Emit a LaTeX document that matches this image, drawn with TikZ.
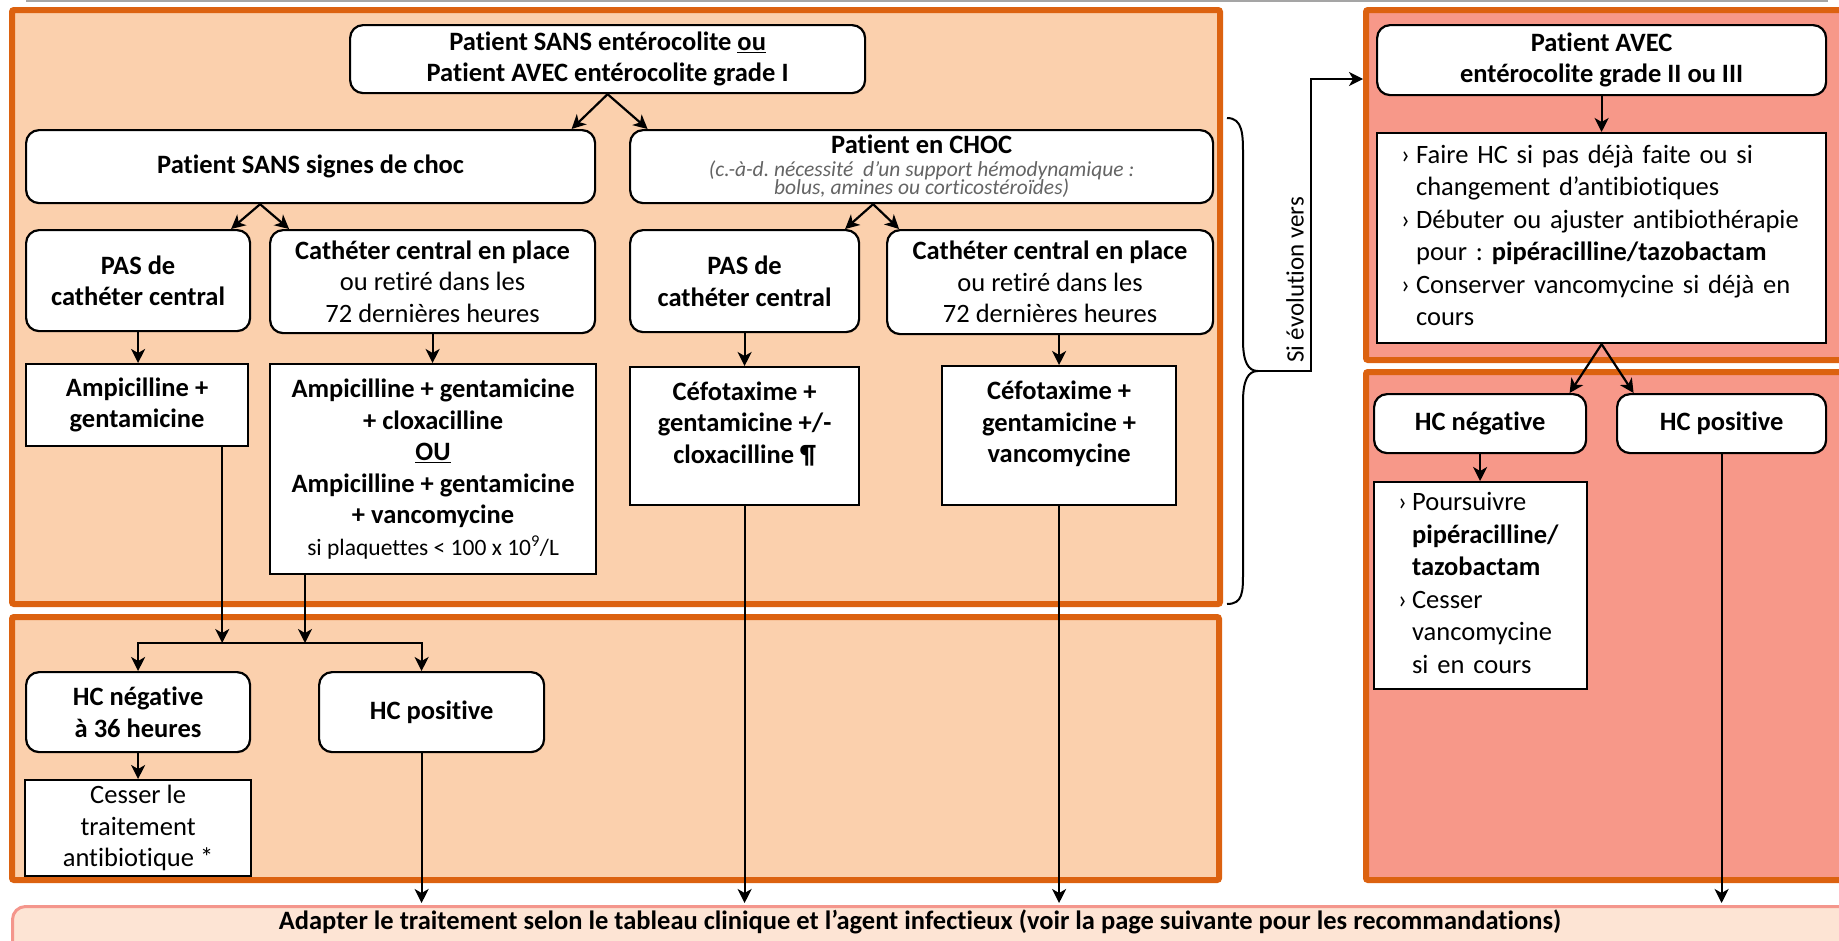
\documentclass[tikz,border=0pt]{standalone}
\usepackage{fontspec}
\setmainfont{Carlito}[Ligatures=NoCommon]
\frenchspacing
\usetikzlibrary{arrows.meta,calc}
\definecolor{peach}{RGB}{251,208,173}
\definecolor{orng}{RGB}{220,98,16}
\definecolor{salm}{RGB}{247,152,137}
\definecolor{lightp}{RGB}{253,228,212}
\definecolor{pinkb}{RGB}{244,150,140}
\definecolor{grayt}{RGB}{100,100,100}
\definecolor{topline}{RGB}{165,165,165}
\newcommand\fsz{\fontsize{26.5}{31.5}\selectfont}
\newcommand\fsl{\fontsize{26.5}{32.5}\selectfont}
\newcommand\fit{\mdseries\itshape\color{grayt}\fontsize{21.5}{16.5}\selectfont}
\begin{document}
\begin{tikzpicture}[x=1pt,y=-1pt,
  rbox/.style={draw=black, line width=2.2pt, fill=white, rounded corners=13pt, align=center, inner sep=0pt, font=\fsz\bfseries, anchor=north west},
  sbox/.style={draw=black, line width=2.2pt, fill=white, align=center, inner sep=0pt, font=\fsz\bfseries, anchor=north west},
  lbox/.style={draw=black, line width=2.2pt, fill=white, align=left, inner ysep=0pt, inner xsep=24pt, font=\fsl\mdseries, anchor=north west},
  conn/.style={line width=2.2pt, -{Stealth[length=14pt,width=14pt,inset=4pt]}},
  panelL/.style={fill=peach, draw=orng, line width=6pt, rounded corners=2pt},
  panelR/.style={fill=salm, draw=orng, line width=6pt, rounded corners=2pt},
]
\useasboundingbox (0,0) rectangle (1839,940);
\clip (0,0) rectangle (1839,940);

% header line
\draw[topline, line width=2pt] (26,1) -- (1828,1);

% panels
\draw[panelL] (12,10) rectangle (1220,604);
\draw[panelL] (12,617) rectangle (1219,880);
\draw[panelR] (1366,10) rectangle (1860,360);
\draw[panelR] (1366,372) rectangle (1860,880);

% bottom box
\node[draw=pinkb, fill=lightp, line width=3pt, rounded corners=13pt, minimum width=1860pt, minimum height=90pt, anchor=north west, inner sep=0pt] (NBbox) at (11,905) {};
\node[font=\fontsize{26.5}{31}\selectfont\bfseries, inner sep=0pt] (NB) at (920,922) {Adapter le traitement selon le tableau clinique et l’agent infectieux (voir la page suivante pour les recommandations)};

% left column nodes
\node[rbox, minimum width=515pt, minimum height=68pt] (N1) at (349,24) {Patient SANS entérocolite \underline{ou}\\Patient AVEC entérocolite grade I};
\node[rbox, minimum width=569pt, minimum height=73pt] (N2) at (25,129) {Patient SANS signes de choc};
\node[rbox, minimum width=583pt, minimum height=73pt] (N3) at (629,129) {Patient en CHOC\\[-9pt]{\fit (c.-à-d. nécessité\ \ d’un support hémodynamique :}\\[-13pt]{\fit bolus, amines ou corticostéroïdes)}};
\node[rbox, minimum width=224pt, minimum height=101pt] (N4) at (25,229) {PAS de\\cathéter central};
\node[rbox, minimum width=325pt, minimum height=103pt] (N5) at (269,229) {Cathéter central en place\\{\mdseries ou retiré dans les}\\{\mdseries 72 dernières heures}};
\node[rbox, minimum width=229pt, minimum height=102pt] (N6) at (629,229) {PAS de\\cathéter central};
\node[rbox, minimum width=326pt, minimum height=104pt] (N7) at (886,229) {Cathéter central en place\\{\mdseries ou retiré dans les}\\{\mdseries 72 dernières heures}};
\node[sbox, minimum width=222pt, minimum height=82pt] (N8) at (25,363) {Ampicilline +\\gentamicine};
\node[sbox, minimum width=326pt, minimum height=210pt] (N9) at (269,363) {Ampicilline + gentamicine\\+ cloxacilline\\\underline{OU}\\Ampicilline + gentamicine\\+ vancomycine\\{\mdseries\fontsize{23.5}{31.5}\selectfont si plaquettes < 100 x 10\textsuperscript{9}/L}};
\node[sbox, minimum width=229pt, minimum height=138pt] (N10) at (629,366) {Céfotaxime +\\gentamicine +/-\\cloxacilline ¶\\[-4pt]\mbox{}};
\node[sbox, minimum width=234pt, minimum height=139pt] (N11) at (941,365) {Céfotaxime +\\gentamicine +\\vancomycine\\[-4pt]\mbox{}};
\node[rbox, minimum width=224pt, minimum height=80pt] (N12) at (25,671) {HC négative\\à 36 heures};
\node[rbox, minimum width=225pt, minimum height=80pt] (N13) at (318,671) {HC positive};
\node[sbox, minimum width=226pt, minimum height=96pt, font=\fsz\mdseries] (N14) at (24,779) {Cesser le\\traitement\\antibiotique *};

% right column nodes
\node[rbox, minimum width=449pt, minimum height=70pt] (N15) at (1376,24) {Patient AVEC\\entérocolite grade II ou III};
\node[lbox, text width=401pt, minimum width=449pt, minimum height=210pt] (NR1) at (1376,132) {\begin{tabular}{@{}p{15pt}@{}l@{}}›&Faire HC si pas déjà faite ou si\\&changement d’antibiotiques\\›&Débuter ou ajuster antibiothérapie\\&pour : \textbf{pipéracilline/tazobactam}\\›&Conserver vancomycine si déjà en\\&cours\end{tabular}};
\node[rbox, minimum width=212pt, minimum height=59pt] (NR2) at (1373,393) {HC négative};
\node[rbox, minimum width=209pt, minimum height=59pt] (NR3) at (1616,393) {HC positive};
\node[lbox, text width=165pt, minimum width=213pt, minimum height=207pt] (NR4) at (1373,481) {\begin{tabular}{@{}p{14pt}@{}l@{}}›&Poursuivre\\&\textbf{pipéracilline/}\\&\textbf{tazobactam}\\›&Cesser\\&vancomycine\\&si en cours\end{tabular}};

% split arrows
\draw[conn] (N1.south) -- ([xshift=-36pt]N1.south |- N2.north);
\draw[conn] (N1.south) -- ([xshift=40pt]N1.south |- N2.north);
\coordinate (a2) at ($(N4.north east)!0.5!(N5.north west)$);
\draw[conn] (a2 |- N2.south) -- ([xshift=-29pt]a2);
\draw[conn] (a2 |- N2.south) -- ([xshift=29pt]a2);
\coordinate (a3) at ($(N6.north east)!0.5!(N7.north west)$);
\draw[conn] (a3 |- N3.south) -- ([xshift=-28pt]a3);
\draw[conn] (a3 |- N3.south) -- ([xshift=26pt]a3);
\draw[conn] (NR1.south) -- ([xshift=-32pt]NR1.south |- NR2.north);
\draw[conn] (NR1.south) -- ([xshift=32pt]NR1.south |- NR3.north);

% vertical arrows
\draw[conn] (N4.south) -- (N4.south |- N8.north);
\draw[conn] (N5.south) -- (N5.south |- N9.north);
\draw[conn] (N6.south) -- (N6.south |- N10.north);
\draw[conn] (N11.north |- N7.south) -- (N11.north);
\draw[conn] (N15.south) -- (N15.south |- NR1.north);
\draw[conn] (NR2.south) -- (NR2.south |- NR4.north);
\draw[conn] (N12.south) -- (N12.south |- N14.north);

% to the bottom box
\draw[conn] (N10.south) -- ([yshift=2pt]N10.south |- NBbox.north);
\draw[conn] (N11.south) -- ([yshift=2pt]N11.south |- NBbox.north);
\draw[conn] ([xshift=-10pt]N13.south) -- ([xshift=-10pt,yshift=2pt]N13.south |- NBbox.north);
\draw[conn] (NR3.south) -- ([yshift=2pt]NR3.south |- NBbox.north);

% junction bar
\coordinate (bar) at (0,643);
\coordinate (jM) at (260,643);
\draw[conn] ([xshift=-27pt]N8.south east) -- ([xshift=-27pt]N8.south east |- bar);
\draw[conn] ([xshift=36pt]N9.south west) -- ([xshift=36pt]N9.south west |- bar);
\draw[conn] (jM) -| (N12.north);
\draw[conn] (jM) -| ([xshift=-10pt]N13.north);

% brace and evolution arrow
\draw[line width=2pt] (1227,118) .. controls (1243,118) and (1243,135) .. (1243,155) -- (1243,340) .. controls (1243,362) and (1248,371) .. (1258,371) .. controls (1248,371) and (1243,380) .. (1243,402) -- (1243,572) .. controls (1243,592) and (1243,604) .. (1227,604);
\coordinate (cusp) at (1258,371);
\coordinate (bend) at (1311,371);
\coordinate (pin) at (1363,79);
\draw[line width=2pt, -{Stealth[length=14pt,width=14pt,inset=4pt]}] (cusp) -- (bend) |- (pin);
\node[rotate=90, font=\fontsize{25}{30}\selectfont, inner sep=0pt] (evo) at (1295,280) {Si évolution vers};
\end{tikzpicture}
\end{document}
